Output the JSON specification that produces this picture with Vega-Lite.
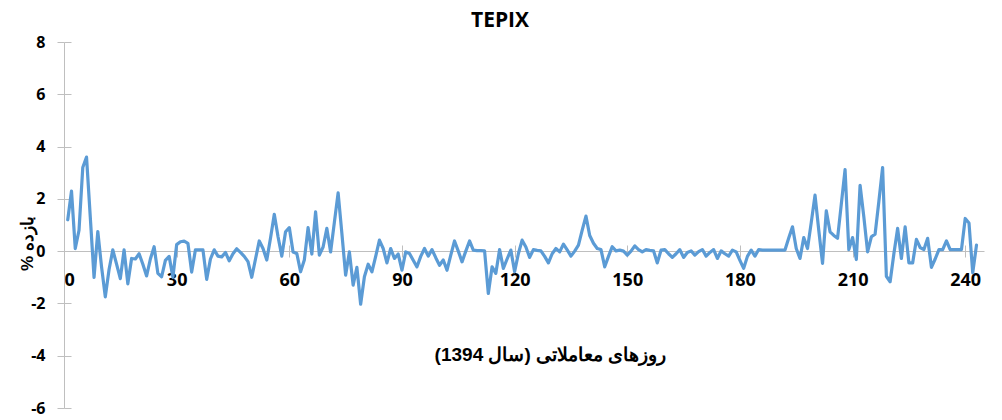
{
  "$schema": "https://vega.github.io/schema/vega-lite/v6.json",
  "width": 920,
  "height": 366,
  "autosize": {"type": "none"},
  "padding": {"left": 64, "top": 42, "right": 18, "bottom": 12},
  "background": "white",
  "title": {"text": "TEPIX", "font": "Open Sans", "fontSize": 21, "fontWeight": "bold", "color": "#000000", "anchor": "middle", "dx": -24, "offset": 3},
  "config": {"view": {"stroke": null}},
  "data": {"values": [
    {"day":1,"ret":1.2},{"day":2,"ret":2.3},{"day":3,"ret":0.1},{"day":4,"ret":0.8},{"day":5,"ret":3.2},{"day":6,"ret":3.6},{"day":7,"ret":1.3},{"day":8,"ret":-1.0},{"day":9,"ret":0.75},{"day":10,"ret":-0.6},
    {"day":11,"ret":-1.75},{"day":12,"ret":-0.7},{"day":13,"ret":0.05},{"day":14,"ret":-0.5},{"day":15,"ret":-1.05},{"day":16,"ret":0.05},{"day":17,"ret":-1.25},{"day":18,"ret":-0.28},{"day":19,"ret":-0.3},{"day":20,"ret":-0.1},
    {"day":21,"ret":-0.5},{"day":22,"ret":-0.95},{"day":23,"ret":-0.3},{"day":24,"ret":0.17},{"day":25,"ret":-0.85},{"day":26,"ret":-0.98},{"day":27,"ret":-0.35},{"day":28,"ret":-0.2},{"day":29,"ret":-1.0},{"day":30,"ret":0.25},
    {"day":31,"ret":0.36},{"day":32,"ret":0.38},{"day":33,"ret":0.3},{"day":34,"ret":-0.8},{"day":35,"ret":0.05},{"day":36,"ret":0.05},{"day":37,"ret":0.05},{"day":38,"ret":-1.08},{"day":39,"ret":-0.3},{"day":40,"ret":0.05},
    {"day":41,"ret":-0.19},{"day":42,"ret":-0.22},{"day":43,"ret":-0.05},{"day":44,"ret":-0.37},{"day":45,"ret":-0.1},{"day":46,"ret":0.09},{"day":47,"ret":-0.05},{"day":48,"ret":-0.2},{"day":49,"ret":-0.4},{"day":50,"ret":-1.0},
    {"day":51,"ret":-0.3},{"day":52,"ret":0.39},{"day":53,"ret":0.1},{"day":54,"ret":-0.34},{"day":55,"ret":0.5},{"day":56,"ret":1.41},{"day":57,"ret":0.55},{"day":58,"ret":-0.19},{"day":59,"ret":0.74},{"day":60,"ret":0.9},
    {"day":61,"ret":-0.03},{"day":62,"ret":-0.09},{"day":63,"ret":-0.79},{"day":64,"ret":-0.34},{"day":65,"ret":0.9},{"day":66,"ret":-0.11},{"day":67,"ret":1.5},{"day":68,"ret":-0.15},{"day":69,"ret":0.16},{"day":70,"ret":0.87},
    {"day":71,"ret":-0.03},{"day":72,"ret":1.1},{"day":73,"ret":2.23},{"day":74,"ret":0.68},{"day":75,"ret":-0.92},{"day":76,"ret":-0.03},{"day":77,"ret":-1.3},{"day":78,"ret":-0.62},{"day":79,"ret":-2.03},{"day":80,"ret":-0.98},
    {"day":81,"ret":-0.5},{"day":82,"ret":-0.79},{"day":83,"ret":-0.2},{"day":84,"ret":0.42},{"day":85,"ret":0.1},{"day":86,"ret":-0.45},{"day":87,"ret":0.1},{"day":88,"ret":-0.28},{"day":89,"ret":-0.11},{"day":90,"ret":-0.73},
    {"day":91,"ret":-0.03},{"day":92,"ret":-0.09},{"day":93,"ret":-0.35},{"day":94,"ret":-0.6},{"day":95,"ret":-0.2},{"day":96,"ret":0.1},{"day":97,"ret":-0.19},{"day":98,"ret":0.06},{"day":99,"ret":-0.25},{"day":100,"ret":-0.54},
    {"day":101,"ret":-0.34},{"day":102,"ret":-0.73},{"day":103,"ret":-0.15},{"day":104,"ret":0.39},{"day":105,"ret":0.0},{"day":106,"ret":-0.41},{"day":107,"ret":0.0},{"day":108,"ret":0.39},{"day":109,"ret":0.04},{"day":110,"ret":0.02},
    {"day":111,"ret":0.02},{"day":112,"ret":0.01},{"day":113,"ret":-1.62},{"day":114,"ret":-0.6},{"day":115,"ret":-0.85},{"day":116,"ret":0.06},{"day":117,"ret":-0.66},{"day":118,"ret":-0.3},{"day":119,"ret":0.04},{"day":120,"ret":-0.79},
    {"day":121,"ret":-0.1},{"day":122,"ret":0.42},{"day":123,"ret":0.16},{"day":124,"ret":-0.24},{"day":125,"ret":0.06},{"day":126,"ret":0.03},{"day":127,"ret":0.01},{"day":128,"ret":-0.2},{"day":129,"ret":-0.45},{"day":130,"ret":-0.1},
    {"day":131,"ret":0.1},{"day":132,"ret":-0.03},{"day":133,"ret":0.27},{"day":134,"ret":0.05},{"day":135,"ret":-0.19},{"day":136,"ret":0.0},{"day":137,"ret":0.23},{"day":138,"ret":0.8},{"day":139,"ret":1.34},{"day":140,"ret":0.6},
    {"day":141,"ret":0.3},{"day":142,"ret":0.1},{"day":143,"ret":0.06},{"day":144,"ret":-0.6},{"day":145,"ret":-0.2},{"day":146,"ret":0.17},{"day":147,"ret":0.01},{"day":148,"ret":0.04},{"day":149,"ret":0.0},{"day":150,"ret":-0.15},
    {"day":151,"ret":0.0},{"day":152,"ret":0.2},{"day":153,"ret":0.06},{"day":154,"ret":-0.03},{"day":155,"ret":0.06},{"day":156,"ret":0.03},{"day":157,"ret":0.01},{"day":158,"ret":-0.45},{"day":159,"ret":0.04},{"day":160,"ret":0.06},
    {"day":161,"ret":-0.1},{"day":162,"ret":-0.24},{"day":163,"ret":-0.1},{"day":164,"ret":0.06},{"day":165,"ret":-0.24},{"day":166,"ret":-0.05},{"day":167,"ret":0.01},{"day":168,"ret":-0.15},{"day":169,"ret":-0.02},{"day":170,"ret":0.06},
    {"day":171,"ret":-0.19},{"day":172,"ret":-0.05},{"day":173,"ret":0.06},{"day":174,"ret":-0.28},{"day":175,"ret":0.01},{"day":176,"ret":-0.1},{"day":177,"ret":-0.19},{"day":178,"ret":0.04},{"day":179,"ret":-0.03},{"day":180,"ret":-0.35},
    {"day":181,"ret":-0.66},{"day":182,"ret":-0.2},{"day":183,"ret":0.04},{"day":184,"ret":-0.19},{"day":185,"ret":0.06},{"day":186,"ret":0.04},{"day":187,"ret":0.04},{"day":188,"ret":0.04},{"day":189,"ret":0.04},{"day":190,"ret":0.04},
    {"day":191,"ret":0.04},{"day":192,"ret":0.04},{"day":193,"ret":0.5},{"day":194,"ret":0.93},{"day":195,"ret":0.1},{"day":196,"ret":-0.28},{"day":197,"ret":0.52},{"day":198,"ret":0.1},{"day":199,"ret":1.1},{"day":200,"ret":2.14},
    {"day":201,"ret":0.8},{"day":202,"ret":-0.47},{"day":203,"ret":1.54},{"day":204,"ret":0.74},{"day":205,"ret":0.6},{"day":206,"ret":0.49},{"day":207,"ret":1.8},{"day":208,"ret":3.12},{"day":209,"ret":0.06},{"day":210,"ret":0.52},
    {"day":211,"ret":-0.32},{"day":212,"ret":2.52},{"day":213,"ret":1.31},{"day":214,"ret":-0.03},{"day":215,"ret":0.55},{"day":216,"ret":0.65},{"day":217,"ret":1.9},{"day":218,"ret":3.2},{"day":219,"ret":-0.96},{"day":220,"ret":-1.17},
    {"day":221,"ret":-0.1},{"day":222,"ret":0.87},{"day":223,"ret":-0.28},{"day":224,"ret":0.93},{"day":225,"ret":-0.45},{"day":226,"ret":-0.45},{"day":227,"ret":0.45},{"day":228,"ret":0.14},{"day":229,"ret":0.06},{"day":230,"ret":0.49},
    {"day":231,"ret":-0.62},{"day":232,"ret":-0.3},{"day":233,"ret":0.06},{"day":234,"ret":0.06},{"day":235,"ret":0.39},{"day":236,"ret":0.06},{"day":237,"ret":0.06},{"day":238,"ret":0.06},{"day":239,"ret":0.06},{"day":240,"ret":1.25},
    {"day":241,"ret":1.08},{"day":242,"ret":-0.83},{"day":243,"ret":0.23}
  ]},
  "layer": [
    {
      "mark": {"type": "line", "color": "#5B9BD5", "strokeWidth": 3.2, "strokeJoin": "round", "strokeCap": "round"},
      "encoding": {
        "x": {"field": "day", "type": "quantitative", "scale": {"domain": [0, 245], "nice": false, "zero": false},
          "axis": {"orient": "bottom", "offset": -157, "values": [0, 30, 60, 90, 120, 150, 180, 210, 240], "grid": false,
            "tickSize": 6, "tickColor": "#BFBFBF", "domainColor": "#BFBFBF", "tickWidth": 1, "domainWidth": 1,
            "labelFont": "Open Sans", "labelFontSize": 18, "labelFontWeight": "bold", "labelColor": "#000000", "labelPadding": 14,
            "title": "روزهای معاملاتی (سال 1394)‏", "titleFont": "Liberation Sans", "titleFontSize": 19, "titleFontWeight": "bold", "titleColor": "#000000",
            "titleX": 486, "titleY": 94, "titleBaseline": "top"}},
        "y": {"field": "ret", "type": "quantitative", "scale": {"domain": [-6, 8], "nice": false},
          "axis": {"orient": "left", "values": [-6, -4, -2, 0, 2, 4, 6, 8], "grid": false,
            "labelExpr": "datum.value < 0 ? '-' + abs(datum.value) : '' + datum.value",
            "tickSize": 7, "tickColor": "#BFBFBF", "domainColor": "#BFBFBF", "tickWidth": 1, "domainWidth": 1,
            "labelFont": "Open Sans", "labelFontSize": 16, "labelFontWeight": "bold", "labelColor": "#000000", "labelPadding": 12,
            "title": "بازده %‏", "titleFont": "Liberation Sans", "titleFontSize": 17, "titleFontWeight": "bold", "titleColor": "#000000",
            "titleX": -37, "titleY": 201, "titleBaseline": "middle", "titleAngle": -90}}
      }
    },
    {
      "mark": {"type": "line", "opacity": 0},
      "encoding": {
        "x": {"field": "day", "type": "quantitative",
          "axis": {"orient": "top", "offset": -209, "values": [0, 30, 60, 90, 120, 150, 180, 210, 240], "grid": false, "labels": false, "domain": false,
            "tickSize": 6, "tickColor": "#BFBFBF", "tickWidth": 1, "title": null}},
        "y": {"field": "ret", "type": "quantitative",
          "axis": {"orient": "right", "offset": -920, "values": [-6, -4, -2, 0, 2, 4, 6, 8], "grid": false, "labels": false, "domain": false,
            "tickSize": 7, "tickColor": "#BFBFBF", "tickWidth": 1, "title": null}}
      }
    }
  ],
  "resolve": {"axis": {"x": "independent", "y": "independent"}}
}
